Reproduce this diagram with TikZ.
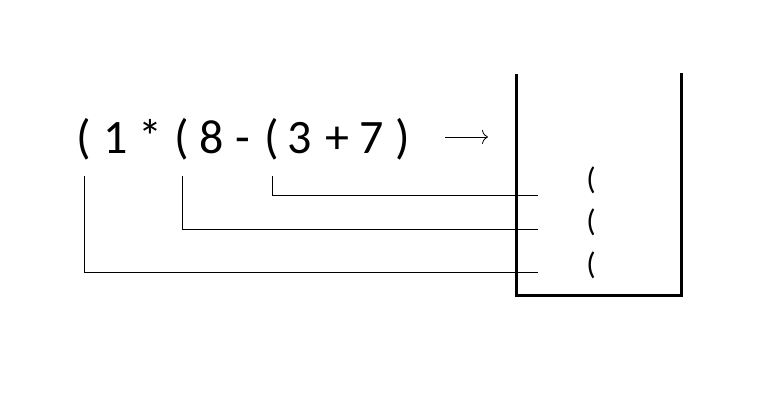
\documentclass[tikz,border=0pt]{standalone}
\usepackage{fontspec}
\setmainfont{Carlito}
\usetikzlibrary{arrows.meta}
\begin{document}
\begin{tikzpicture}[x=1pt,y=-1pt,
  big/.style={inner sep=0pt,anchor=base,font=\fontsize{48}{56}\selectfont},
  small/.style={inner sep=0pt,anchor=center,font=\fontsize{31}{36}\selectfont},
  wall/.style={line width=3pt},
  link/.style={line width=0.8pt}]
\fill[white] (0,0) rectangle (782,406);
\useasboundingbox (0,0) rectangle (782,406);
% expression
\node[big] (p1) at (84,154) {(};
\node[big] (one) at (116,154) {1};
\node[big] (star) at (150,154) {*};
\node[big] (p2) at (182,154) {(};
\node[big] (eight) at (212,154) {8};
\node[big] (minus) at (243,154) {-};
\node[big] (p3) at (272,154) {(};
\node[big] (three) at (300,154) {3};
\node[big] (plus) at (337,154) {+};
\node[big] (seven) at (372,154) {7};
\node[big] (pc) at (403,154) {)};
% arrow
\coordinate (a1) at (445,137);
\coordinate (a2) at (488,137);
\draw[line width=0.8pt,-{To[length=6pt,width=14pt]}] (a1) -- (a2);
% stack
\coordinate (sTL) at (516,76);
\coordinate (sBL) at (516,295);
\coordinate (sBR) at (681,295);
\coordinate (sTR) at (681,75);
\draw[wall,line cap=rect] (sTL) -- (sBL) -- (sBR) -- (sTR);
\node[small] (s1) at (591,180) {(};
\node[small] (s2) at (591,222) {(};
\node[small] (s3) at (591,265) {(};
% connectors
\coordinate (e1) at (538,195);
\coordinate (e2) at (538,229);
\coordinate (e3) at (538,272);
\draw[link] ([yshift=-15pt]p3.south) |- (e1);
\draw[link] ([yshift=-15pt]p2.south) |- (e2);
\draw[link] ([yshift=-15pt]p1.south) |- (e3);
\end{tikzpicture}
\end{document}
